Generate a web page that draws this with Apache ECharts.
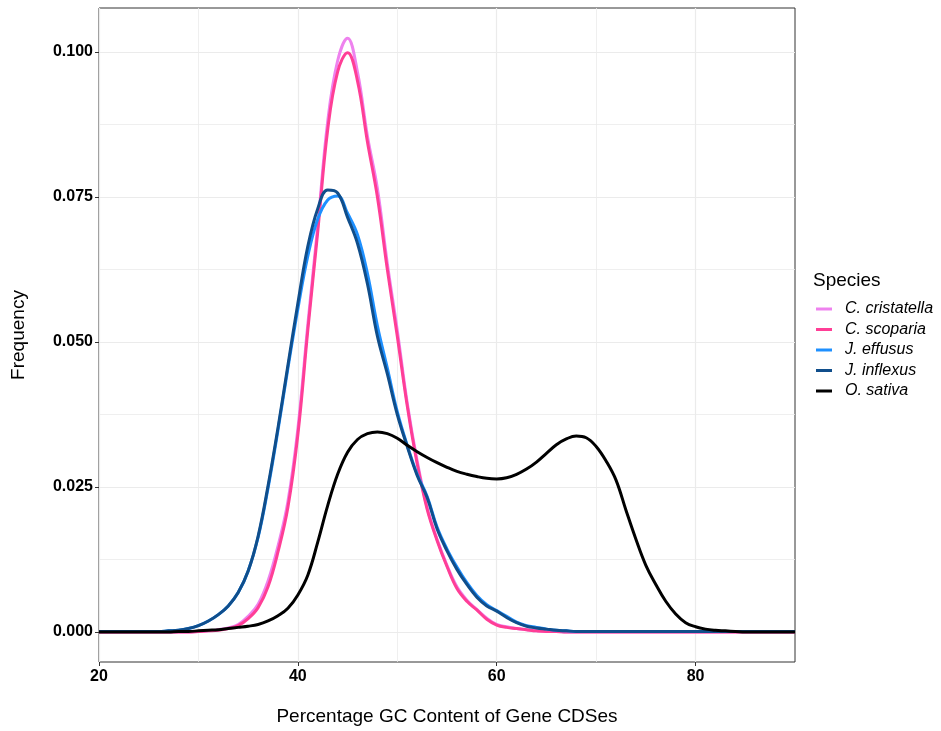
<!DOCTYPE html>
<html>
<head>
<meta charset="utf-8">
<title>GC content of gene CDSes</title>
<script src="https://cdn.jsdelivr.net/npm/echarts@6/dist/echarts.min.js"></script>
<style>
  html, body { margin: 0; padding: 0; background: #fff; }
  #chart { width: 941px; height: 731px; }
</style>
</head>
<body>
<div id="chart"></div>
<script>
// percentage GC content (x) shared by every density curve
const gcContent = [
  20, 21, 22, 23, 24, 25, 26, 27, 28, 29,
  30, 31, 32, 33, 34, 35, 36, 37, 38, 39,
  40, 41, 42, 43, 44, 45, 46, 47, 48, 49,
  50, 51, 52, 53, 54, 55, 56, 57, 58, 59,
  60, 61, 62, 63, 64, 65, 66, 67, 68, 69,
  70, 71, 72, 73, 74, 75, 76, 77, 78, 79,
  80, 81, 82, 83, 84, 85, 86, 87, 88, 89, 90
]

const cristatella = [
  0, 0, 0, 0, 0, 0, 0, 0, 0, 0,
  0.0001, 0.0002, 0.0004, 0.0007, 0.0013, 0.0027, 0.0048, 0.0088, 0.0148, 0.0225,
  0.0350, 0.0530, 0.0700, 0.0880, 0.0985, 0.1024, 0.0965, 0.0855, 0.0765, 0.0635,
  0.0520, 0.0395, 0.0295, 0.0215, 0.0160, 0.0115, 0.0078, 0.0055, 0.0039, 0.0024,
  0.0013, 0.0009, 0.0006, 0.0004, 0.0002, 0.0001, 0.0001, 0, 0, 0,
  0, 0, 0, 0, 0, 0, 0, 0, 0, 0,
  0, 0, 0, 0, 0, 0, 0, 0, 0, 0, 0
]

const scoparia = [
  0, 0, 0, 0, 0, 0, 0, 0, 0, 0,
  0.0001, 0.0002, 0.0003, 0.0006, 0.0011, 0.0023, 0.0042, 0.0078, 0.0138, 0.0215,
  0.0340, 0.0520, 0.0690, 0.0866, 0.0966, 0.0999, 0.0950, 0.0845, 0.0750, 0.0625,
  0.0510, 0.0390, 0.0290, 0.0212, 0.0158, 0.0113, 0.0075, 0.0053, 0.0038, 0.0022,
  0.0012, 0.0008, 0.0006, 0.0004, 0.0002, 0.0001, 0.0001, 0, 0, 0,
  0, 0, 0, 0, 0, 0, 0, 0, 0, 0,
  0, 0, 0, 0, 0, 0, 0, 0, 0, 0, 0
]

const effusus = [
  0.0001, 0.0001, 0.0001, 0.0001, 0.0001, 0.0001, 0.0001, 0.0002, 0.0003, 0.0006,
  0.0011, 0.0019, 0.0030, 0.0045, 0.0068, 0.0105, 0.0163, 0.0248, 0.0348, 0.0455,
  0.0557, 0.0648, 0.0712, 0.0745, 0.0752, 0.0722, 0.0685, 0.0618, 0.0528, 0.0455,
  0.0380, 0.0322, 0.0272, 0.0234, 0.0181, 0.0143, 0.0112, 0.0085, 0.0063, 0.0047,
  0.0037, 0.0027, 0.0017, 0.0011, 0.0008, 0.0005, 0.0003, 0.0002, 0.0001, 0.0001,
  0.0001, 0.0001, 0.0001, 0.0001, 0.0001, 0.0001, 0.0001, 0.0001, 0.0001, 0.0001,
  0.0001, 0.0001, 0.0001, 0.0001, 0.0001, 0.0001, 0.0001, 0.0001, 0.0001, 0.0001, 0.0001
]

const inflexus = [
  0.0001, 0.0001, 0.0001, 0.0001, 0.0001, 0.0001, 0.0001, 0.0002, 0.0003, 0.0006,
  0.0011, 0.0019, 0.0030, 0.0045, 0.0068, 0.0105, 0.0165, 0.0252, 0.0352, 0.0460,
  0.0567, 0.0665, 0.0730, 0.0762, 0.0757, 0.0715, 0.0670, 0.0600, 0.0510, 0.0445,
  0.0375, 0.0320, 0.0270, 0.0232, 0.0178, 0.0140, 0.0108, 0.0082, 0.0060, 0.0045,
  0.0036, 0.0025, 0.0016, 0.0010, 0.0007, 0.0005, 0.0003, 0.0002, 0.0001, 0.0001,
  0.0001, 0.0001, 0.0001, 0.0001, 0.0001, 0.0001, 0.0001, 0.0001, 0.0001, 0.0001,
  0.0001, 0.0001, 0.0001, 0.0001, 0.0001, 0.0001, 0.0001, 0.0001, 0.0001, 0.0001, 0.0001
]

const sativa = [
  0, 0, 0, 0, 0, 0, 0, 0, 0.0001, 0.0001,
  0.0002, 0.0003, 0.0004, 0.0006, 0.0008, 0.0010, 0.0013, 0.0019, 0.0028, 0.0041,
  0.0064, 0.0098, 0.0155, 0.0218, 0.0272, 0.0310, 0.0332, 0.0342, 0.0345, 0.0342,
  0.0334, 0.0322, 0.0311, 0.0301, 0.0292, 0.0284, 0.0277, 0.0272, 0.0268, 0.0265,
  0.0264, 0.0266, 0.0272, 0.0281, 0.0293, 0.0308, 0.0323, 0.0333, 0.0338, 0.0335,
  0.0320, 0.0295, 0.0262, 0.0210, 0.0160, 0.0115, 0.0082, 0.0053, 0.0031, 0.0016,
  0.0009, 0.0005, 0.0003, 0.0002, 0.0001, 0, 0, 0, 0, 0, 0
]

const speciesNames = ['C. cristatella', 'C. scoparia', 'J. effusus', 'J. inflexus', 'O. sativa']
const speciesValues = [cristatella, scoparia, effusus, inflexus, sativa]
const speciesColors = ['#EE82EE', '#FF3E96', '#1E90FF', '#104E8B', '#000000']

const xTicks = [20, 40, 60, 80]
const xMinorTicks = [30, 50, 70]
const yTicks = [0, 0.025, 0.05, 0.075, 0.1]
const yMinorTicks = [0.0125, 0.0375, 0.0625, 0.0875]

const font = '"Liberation Sans", Arial, Helvetica, sans-serif'
const gridColor = '#EBEBEB'

const chart = echarts.init(document.getElementById('chart'))

// extra axis used only to draw the thinner minor grid lines
function minorAxis(type, min, max, values) {
  return {
    type: 'value',
    min: min,
    max: max,
    position: type === 'x' ? 'bottom' : 'left',
    axisLine: { show: false, onZero: false },
    axisTick: { show: false, customValues: values },
    axisLabel: { show: false },
    splitLine: { show: true, lineStyle: { color: gridColor, width: 0.8 } }
  }
}

const option = {
  animation: false,
  textStyle: { fontFamily: font },
  title: {
    text: 'Species',
    left: 813,
    top: 271,
    padding: 0,
    textStyle: { fontSize: 19, fontWeight: 'normal', color: '#000', fontFamily: font }
  },
  legend: {
    data: speciesNames,
    orient: 'vertical',
    left: 816,
    top: 300,
    padding: 0,
    icon: 'rect',
    itemWidth: 16,
    itemHeight: 3,
    itemGap: 2.5,
    textStyle: {
      fontSize: 16,
      fontStyle: 'italic',
      color: '#000',
      lineHeight: 18,
      padding: [0, 0, 0, 8],
      fontFamily: font
    }
  },
  grid: {
    left: 99,
    right: 146,
    top: 8,
    bottom: 69,
    outerBoundsMode: 'none',
    show: true,
    borderColor: '#333',
    borderWidth: 1,
    backgroundColor: 'transparent'
  },
  xAxis: [
    {
      type: 'value',
      min: 20,
      max: 90,
      name: 'Percentage GC Content of Gene CDSes',
      nameLocation: 'middle',
      nameGap: 45,
      nameTextStyle: { fontSize: 19, color: '#000', fontFamily: font },
      axisLine: { show: false, onZero: false },
      axisTick: { show: true, length: 4, customValues: xTicks, lineStyle: { color: '#333' } },
      axisLabel: {
        customValues: xTicks,
        margin: 7,
        fontSize: 16,
        fontWeight: 'bold',
        color: '#000',
        fontFamily: font
      },
      splitLine: { show: true, lineStyle: { color: gridColor, width: 1.2 } }
    },
    minorAxis('x', 20, 90, xMinorTicks)
  ],
  yAxis: [
    {
      type: 'value',
      min: -0.00517,
      max: 0.1076,
      name: 'Frequency',
      nameLocation: 'middle',
      nameGap: 71,
      nameTextStyle: { fontSize: 19, color: '#000', fontFamily: font },
      axisLine: { show: false, onZero: false },
      axisTick: { show: true, length: 4, customValues: yTicks, lineStyle: { color: '#333' } },
      axisLabel: {
        customValues: yTicks,
        margin: 6,
        fontSize: 16,
        fontWeight: 'bold',
        color: '#000',
        fontFamily: font,
        formatter: v => v.toFixed(3)
      },
      splitLine: { show: true, lineStyle: { color: gridColor, width: 1.2 } }
    },
    minorAxis('y', -0.00517, 0.1076, yMinorTicks)
  ],
  series: speciesNames.map((name, i) => ({
    name: name,
    type: 'line',
    xAxisIndex: 0,
    yAxisIndex: 0,
    smooth: 0.4,
    showSymbol: false,
    symbol: 'none',
    color: speciesColors[i],
    lineStyle: { width: 3, color: speciesColors[i] },
    data: gcContent.map((x, j) => [x, speciesValues[i][j]])
  }))
}

chart.setOption(option)
</script>
</body>
</html>
